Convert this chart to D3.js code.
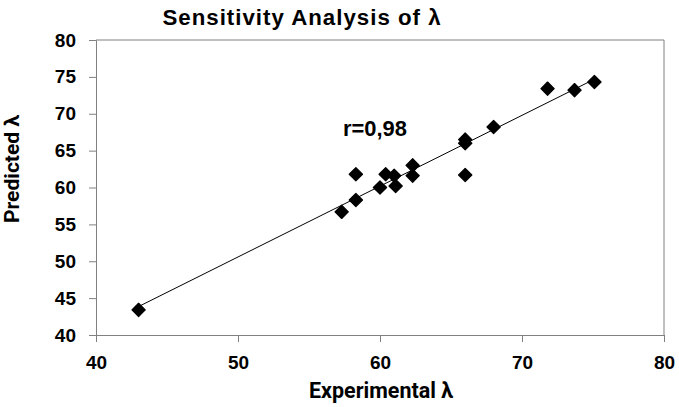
<!DOCTYPE html>
<html>
<head>
<meta charset="utf-8">
<script src="https://cdn.jsdelivr.net/npm/d3@7"></script>
<style>
  body { margin: 0; background: #fff; }
  svg { display: block; font-family: "Liberation Sans", Arial, sans-serif; }
  .tick text { font-weight: bold; font-size: 19px; fill: #000; }
  .axis path, .axis line { stroke: #808080; }
</style>
</head>
<body>
<svg id="canvas" width="679" height="407"></svg>
<script>
// experimental vs predicted lambda
var experimental = [43.0, 57.3, 58.3, 58.3, 60.0, 60.4, 61.0, 61.1, 62.3, 62.3, 66.0, 66.0, 66.0, 68.0, 71.8, 73.7, 75.1];
var predicted    = [43.4, 56.7, 58.3, 61.8, 60.0, 61.8, 61.6, 60.2, 63.0, 61.6, 61.7, 66.0, 66.5, 68.2, 73.4, 73.2, 74.3];
var xTicks = [40, 50, 60, 70, 80];
var yTicks = [40, 45, 50, 55, 60, 65, 70, 75, 80];
var rLabel = "r=0,98";

var svg = d3.select('#canvas'),
    margin = {left: 96, right: 15, top: 40, bottom: 72},
    W = +svg.attr('width'), H = +svg.attr('height');

var x = d3.scaleLinear().domain([40, 80]).range([margin.left, W - margin.right]),
    y = d3.scaleLinear().domain([40, 80]).range([H - margin.bottom, margin.top]);

var points = experimental.map(function(e, i) { return {x: e, y: predicted[i]}; });

// scale font so the text gets the wanted width
function fitText(sel, width) {
    var fs = parseFloat(sel.style('font-size')),
        w = sel.node().getComputedTextLength();
    sel.style('font-size', (fs * width / w) + 'px');
}

// frame (top and right)
svg.append('path')
    .attr('d', 'M' + x(40) + ',' + y(80) + 'H' + x(80) + 'V' + y(40))
    .attr('fill', 'none')
    .attr('stroke', '#808080');

svg.append('g')
    .attr('class', 'axis')
    .attr('transform', 'translate(0,' + y(40) + ')')
    .call(d3.axisBottom(x).tickValues(xTicks).tickSizeOuter(0).tickSize(7).tickPadding(14));

svg.append('g')
    .attr('class', 'axis')
    .attr('transform', 'translate(' + x(40) + ',0)')
    .call(d3.axisLeft(y).tickValues(yTicks).tickSizeOuter(0).tickSize(7).tickPadding(13));

// least squares trendline over data range
var mx = d3.mean(experimental), my = d3.mean(predicted),
    sxy = d3.sum(points, function(d) { return (d.x - mx) * (d.y - my); }),
    sxx = d3.sum(points, function(d) { return (d.x - mx) * (d.x - mx); }),
    slope = sxy / sxx, icpt = my - slope * mx,
    ext = d3.extent(experimental);

svg.append('line')
    .attr('x1', x(ext[0])).attr('y1', y(icpt + slope * ext[0]))
    .attr('x2', x(ext[1])).attr('y2', y(icpt + slope * ext[1]))
    .attr('stroke', '#000')
    .attr('stroke-width', 1);

var diamond = d3.symbol().type(d3.symbolSquare).size(88);
svg.selectAll('.pt')
    .data(points)
  .enter().append('path')
    .attr('class', 'pt')
    .attr('d', diamond)
    .attr('transform', function(d) { return 'translate(' + x(d.x) + ',' + y(d.y) + ') rotate(45)'; })
    .attr('fill', '#000')
    .attr('stroke', '#000')
    .attr('stroke-width', 1.2)
    .attr('stroke-linejoin', 'round');

// texts
svg.append('text')
    .attr('x', 302).attr('y', 25)
    .attr('text-anchor', 'middle')
    .style('font-weight', 'bold').style('font-size', '20px').style('letter-spacing', '1px')
    .text('Sensitivity Analysis of λ')
    .call(fitText, 282);

svg.append('text')
    .attr('x', 381).attr('y', 398)
    .attr('text-anchor', 'middle')
    .style('font-weight', 'bold').style('font-size', '20px')
    .style('font-family', 'Roboto, sans-serif')
    .text('Experimental λ')
    .call(fitText, 144);

svg.append('text')
    .attr('transform', 'translate(19,169) rotate(-90)')
    .attr('text-anchor', 'middle')
    .style('font-weight', 'bold').style('font-size', '20px')
    .style('font-family', 'Roboto, sans-serif')
    .text('Predicted λ')
    .call(fitText, 108);

svg.append('text')
    .attr('x', 375).attr('y', 136)
    .attr('text-anchor', 'middle')
    .style('font-weight', 'bold').style('font-size', '17px')
    .text(rLabel)
    .call(fitText, 64);
</script>
</body>
</html>
